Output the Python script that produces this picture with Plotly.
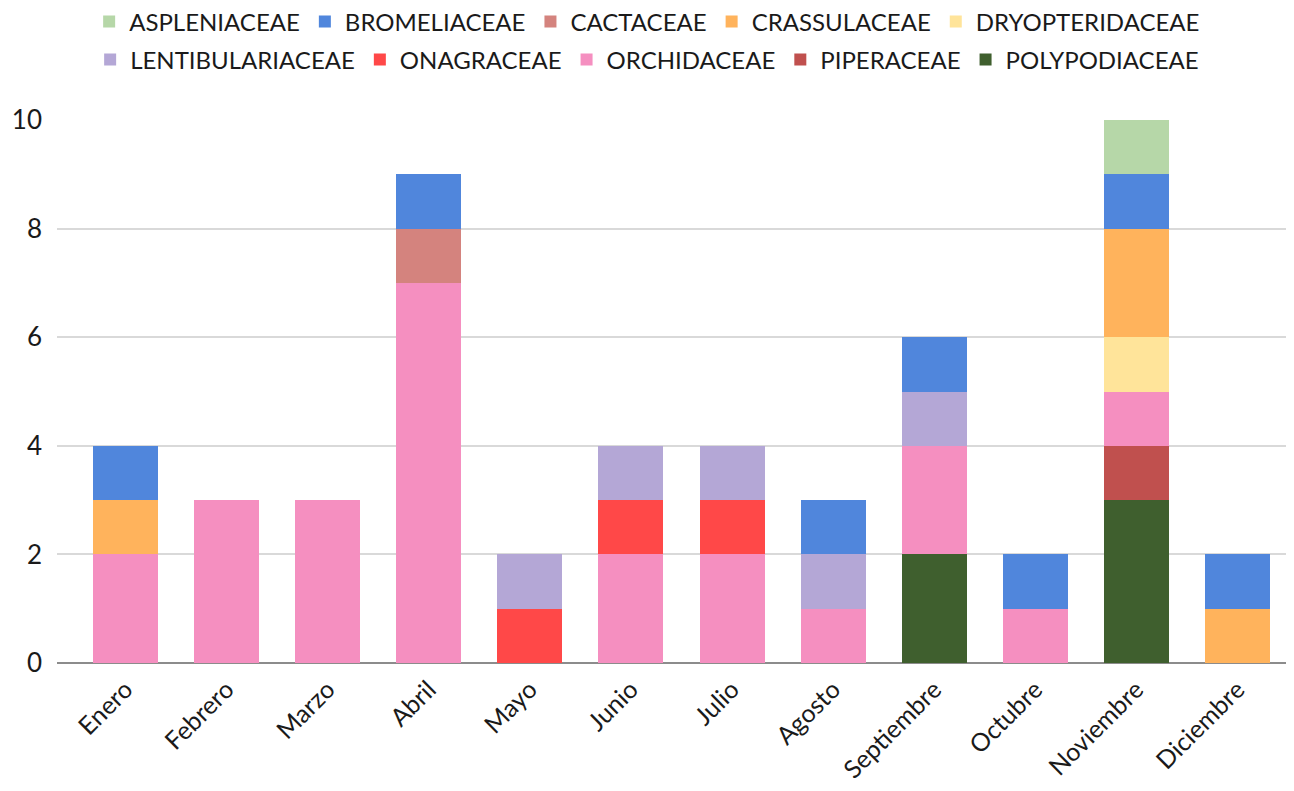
import plotly.graph_objects as go

months = ["Enero", "Febrero", "Marzo", "Abril", "Mayo", "Junio", "Julio",
          "Agosto", "Septiembre", "Octubre", "Noviembre", "Diciembre"]

aspleniaceae     = [0, 0, 0, 0, 0, 0, 0, 0, 0, 0, 1, 0]
bromeliaceae     = [1, 0, 0, 1, 0, 0, 0, 1, 1, 1, 1, 1]
cactaceae        = [0, 0, 0, 1, 0, 0, 0, 0, 0, 0, 0, 0]
crassulaceae     = [1, 0, 0, 0, 0, 0, 0, 0, 0, 0, 2, 1]
dryopteridaceae  = [0, 0, 0, 0, 0, 0, 0, 0, 0, 0, 1, 0]
lentibulariaceae = [0, 0, 0, 0, 1, 1, 1, 1, 1, 0, 0, 0]
onagraceae       = [0, 0, 0, 0, 1, 1, 1, 0, 0, 0, 0, 0]
orchidaceae      = [2, 3, 3, 7, 0, 2, 2, 1, 2, 1, 1, 0]
piperaceae       = [0, 0, 0, 0, 0, 0, 0, 0, 0, 0, 1, 0]
polypodiaceae    = [0, 0, 0, 0, 0, 0, 0, 0, 2, 0, 3, 0]

# stacking order: bottom first
series = [
    ("POLYPODIACEAE", polypodiaceae, "#3f5f2e", "legend2"),
    ("PIPERACEAE", piperaceae, "#c0504e", "legend2"),
    ("ORCHIDACEAE", orchidaceae, "#f58fc0", "legend2"),
    ("ONAGRACEAE", onagraceae, "#ff4848", "legend2"),
    ("LENTIBULARIACEAE", lentibulariaceae, "#b4a7d6", "legend2"),
    ("DRYOPTERIDACEAE", dryopteridaceae, "#ffe49a", "legend"),
    ("CRASSULACEAE", crassulaceae, "#ffb35c", "legend"),
    ("CACTACEAE", cactaceae, "#d4837e", "legend"),
    ("BROMELIACEAE", bromeliaceae, "#5086dc", "legend"),
    ("ASPLENIACEAE", aspleniaceae, "#b6d7a8", "legend"),
]

FONT = "Lato"
W, H = 1286, 783
fig = go.Figure()
for name, vals, color, lg in series:
    fig.add_trace(go.Bar(
        x=months, y=[v if v else None for v in vals], name=name,
        marker=dict(color=color, line=dict(width=0)),
        legend=lg,
    ))

legend_common = dict(
    orientation="h", xref="container", yref="container",
    x=0.497, xanchor="center", yanchor="middle",
    traceorder="reversed", font=dict(family=FONT, size=24, color="#1a1a1a"),
    itemsizing="constant", bgcolor="rgba(0,0,0,0)",
)

fig.update_layout(
    width=W, height=H,
    barmode="stack", bargap=0.357,
    plot_bgcolor="white", paper_bgcolor="white",
    margin=dict(l=49, r=0, t=112, b=128, autoexpand=False),
    font=dict(family=FONT, size=24, color="#1a1a1a"),
    legend=dict(legend_common, y=1 - 14 / H),
    legend2=dict(legend_common, y=1 - 52 / H),
    xaxis=dict(
        type="category", range=[-0.678, 11.56], tickangle=-45,
        tickfont=dict(family=FONT, size=25, color="#1a1a1a"),
        showline=False, showgrid=False, ticks="", ticklabelstandoff=6,
    ),
    yaxis=dict(
        range=[0, 10], dtick=2, tickfont=dict(family=FONT, size=26, color="#1a1a1a"),
        gridcolor="#d9d9d9", gridwidth=1.5, zeroline=True, zerolinecolor="#8c8c8c",
        zerolinewidth=1.5, ticks="", ticklabelstandoff=14,
    ),
)

fig.write_html("out.html")
